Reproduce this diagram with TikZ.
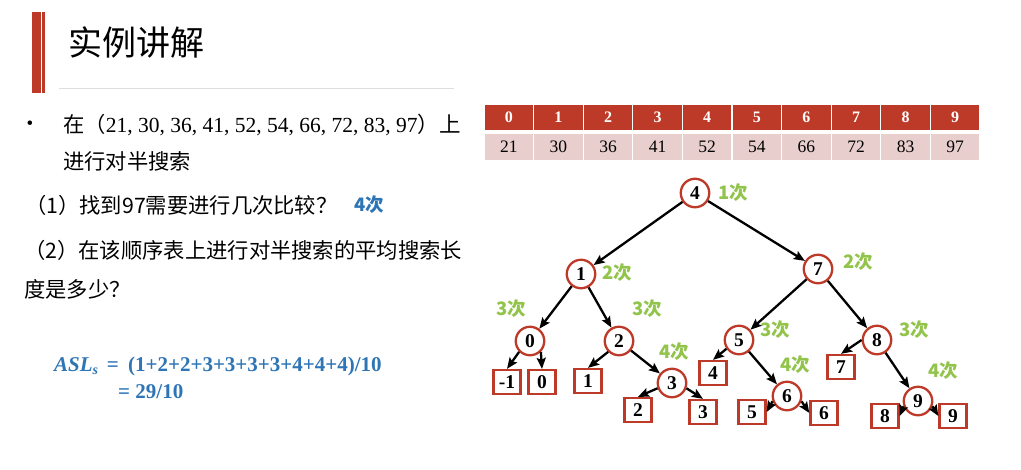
\documentclass[tikz,border=0pt]{standalone}
\usepackage{fontspec}
\setmainfont{Liberation Serif}
\newfontfamily\cjk{Noto Sans CJK SC}
\usetikzlibrary{arrows.meta, positioning, calc}
\definecolor{brick}{RGB}{190,58,40}
\definecolor{pinkcell}{RGB}{232,206,205}
\definecolor{cntgreen}{RGB}{146,196,76}
\definecolor{ansblue}{RGB}{46,117,182}
\definecolor{rulegray}{RGB}{222,222,222}

\begin{document}
\begin{tikzpicture}[x=1pt, y=1pt, >={Stealth[length=11pt,width=9pt,inset=2pt]}, line/.style={draw=black, line width=2.3pt}, border/.style={draw=brick, line width=2.3pt}]
% Define styles for tree nodes, leaves, table cells and texts
\tikzstyle{circ} = [circle, fill=white, minimum size=28.5pt, inner sep=0pt, border, font=\fontsize{19.5}{19.5}\selectfont\bfseries]
\tikzstyle{leaf} = [rectangle, fill=white, minimum width=27pt, minimum height=24pt, inner sep=0pt, border, font=\fontsize{19.5}{19.5}\selectfont\bfseries]
\tikzstyle{hcell} = [rectangle, fill=brick, draw=white, line width=1.2pt, minimum width=49.6pt, minimum height=27pt, inner sep=0pt, text=white, font=\fontsize{16}{16}\selectfont\bfseries, node distance=49.6pt]
\tikzstyle{dcell} = [rectangle, fill=pinkcell, draw=white, line width=1.2pt, minimum width=49.6pt, minimum height=27pt, inner sep=0pt, font=\fontsize{17.5}{17.5}\selectfont, node distance=49.6pt]
\tikzstyle{cnt} = [inner sep=0pt, text=cntgreen, font=\cjk\fontsize{18.5}{18.5}\selectfont\bfseries]
\tikzstyle{txt} = [inner sep=0pt, anchor=west, font=\cjk\fontsize{21.3}{21.3}\selectfont]
\tikzstyle{asl} = [inner sep=0pt, anchor=west, text=ansblue, font=\fontsize{21}{21}\selectfont\bfseries]

\useasboundingbox (0,0) rectangle (1021,-469);
\fill[white] (0,0) rectangle (1021,-469);

% Title bar
\fill[brick] (32,-12) rectangle (41,-93);
\fill[brick] (42,-12) rectangle (45,-93);
\node[inner sep=0pt, font=\cjk\fontsize{34}{34}\selectfont] (title) at (136,-43) {实例讲解};
\draw[rulegray, line width=1pt] (59,-88) -- (454,-88);

% Question text
\node[inner sep=0pt, font=\fontsize{19}{19}\selectfont] (bul) at (30,-125) {\textbullet};
\node[txt] (q0a) at (63,-125) {在（\rmfamily\fontsize{21.5}{21.5}\selectfont 21, 30, 36, 41, 52, 54, 66, 72, 83, 97\cjk ）上};
\node[txt] (q0b) at (63,-161) {进行对半搜索};
\node[txt] (q1) at (25,-205) {（1）找到97需要进行几次比较？};
\node[cnt, text=ansblue] (a1) at (369,-205) {4次};
\node[txt] (q2a) at (24,-250) {（2）在该顺序表上进行对半搜索的平均搜索长};
\node[txt] (q2b) at (24,-289) {度是多少？};
\node[asl] (asl1) at (54,-366) {{\itshape ASL\raisebox{-0.35ex}{\fontsize{14}{14}\selectfont s}} \,= \hspace{4pt}(1+2+2+3+3+3+3+4+4+4)/10};
\node[asl] (asl2) at (118,-392) {= 29/10};

% Table: index row and key row
\node[hcell] (h0) at (508.8,-117.5) {0};
\node[hcell, right of=h0] (h1) {1};
\node[hcell, right of=h1] (h2) {2};
\node[hcell, right of=h2] (h3) {3};
\node[hcell, right of=h3] (h4) {4};
\node[hcell, right of=h4] (h5) {5};
\node[hcell, right of=h5] (h6) {6};
\node[hcell, right of=h6] (h7) {7};
\node[hcell, right of=h7] (h8) {8};
\node[hcell, right of=h8] (h9) {9};
\node[dcell, below of=h0, node distance=29.5pt] (d0) {21};
\node[dcell, right of=d0] (d1) {30};
\node[dcell, right of=d1] (d2) {36};
\node[dcell, right of=d2] (d3) {41};
\node[dcell, right of=d3] (d4) {52};
\node[dcell, right of=d4] (d5) {54};
\node[dcell, right of=d5] (d6) {66};
\node[dcell, right of=d6] (d7) {72};
\node[dcell, right of=d7] (d8) {83};
\node[dcell, right of=d8] (d9) {97};

% Search tree
\node[circ] (n4) at (695,-193) {4};
\node[circ] (n1) at (581,-274) {1};
\node[circ] (n7) at (818,-269) {7};
\node[circ] (n0) at (530,-341) {0};
\node[circ] (n2) at (619,-341) {2};
\node[circ] (n5) at (739,-340) {5};
\node[circ] (n8) at (877,-340) {8};
\node[circ] (n3) at (672,-383) {3};
\node[circ] (n6) at (787,-396) {6};
\node[circ] (n9) at (918,-401) {9};

% Failure leaves
\node[leaf] (bm1) at (507,-382) {-1};
\node[leaf] (b0) at (542,-382) {0};
\node[leaf] (b1) at (588,-381) {1};
\node[leaf] (b2) at (638,-410) {2};
\node[leaf] (b3) at (703,-412) {3};
\node[leaf] (b4) at (713,-373) {4};
\node[leaf] (b5) at (752,-412) {5};
\node[leaf] (b6) at (824,-413) {6};
\node[leaf] (b7) at (841,-367) {7};
\node[leaf] (b8) at (885,-416) {8};
\node[leaf] (b9) at (953,-416) {9};

% Comparison counts
\node[cnt] at (733,-193) {1次};
\node[cnt] at (617,-273) {2次};
\node[cnt] at (858,-262) {2次};
\node[cnt] at (511,-309) {3次};
\node[cnt] at (647,-309) {3次};
\node[cnt] at (775,-330) {3次};
\node[cnt] at (914,-330) {3次};
\node[cnt] at (674,-352) {4次};
\node[cnt] at (795,-365) {4次};
\node[cnt] at (943,-371) {4次};

% Draw edges
\draw[line,->] (n4) -- (n1);
\draw[line,->] (n4) -- (n7);
\draw[line,->] (n1) -- (n0);
\draw[line,->] (n1) -- (n2);
\draw[line,->] (n7) -- (n5);
\draw[line,->] (n7) -- (n8);
\draw[line,->] (n2) -- (n3);
\draw[line,->] (n5) -- (n6);
\draw[line,->] (n8) -- (n9);
\draw[line,->] (n0.-135) -- (bm1.north);
\draw[line,->] (n0.-45) -- (b0.north);
\draw[line,->] (n2.-135) -- (b1.north);
\draw[line,->] (n3.200) -- (b2.north);
\draw[line,->] (n3.-20) -- (b3.north);
\draw[line,->] (n5.-145) -- (b4.north);
\draw[line,->] (n6.200) -- (b5.east);
\draw[line,->] (n6.-20) -- (b6.west);
\draw[line,->] (n8.west) -- (b7.north);
\draw[line,->] (n9.200) -- (b8.east);
\draw[line,->] (n9.-20) -- (b9.west);
\end{tikzpicture}
\end{document}
